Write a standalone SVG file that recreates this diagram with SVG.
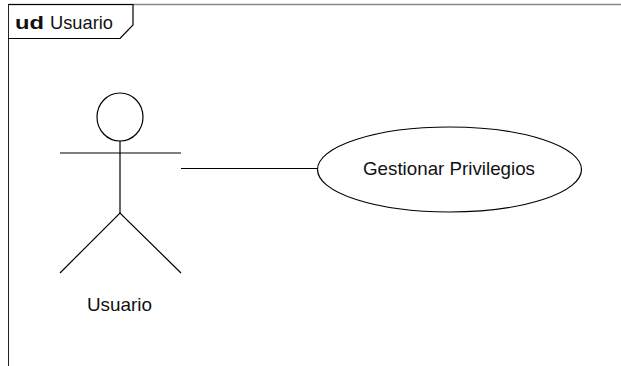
<svg xmlns="http://www.w3.org/2000/svg" width="621" height="366" viewBox="0 0 621 366">
  <style>
    .ln { stroke: #000; stroke-width: 1.2; fill: none; }
    .txt { font-family: "Liberation Sans", Arial, sans-serif; font-size: 18.5px; fill: #111; }
  </style>
  <rect width="621" height="366" fill="#fff"/>
  <!-- diagram frame -->
  <g id="frame">
    <line x1="8" y1="4.5" x2="621" y2="4.5" stroke="#888" stroke-width="1.5"/>
    <line x1="8.5" y1="4" x2="8.5" y2="366" stroke="#222" stroke-width="1"/>
    <path class="ln" d="M8.5 4.5 H133 V25 L120 38.5 H8.5"/>
    <text class="txt" x="15" y="29" font-size="18" font-weight="bold" textLength="29" lengthAdjust="spacingAndGlyphs">ud</text>
    <text class="txt" x="50" y="29" font-size="18" textLength="63" lengthAdjust="spacingAndGlyphs">Usuario</text>
  </g>
  <!-- actor -->
  <g id="actor-usuario">
    <ellipse class="ln" cx="120" cy="117" rx="23" ry="24"/>
    <line class="ln" x1="60" y1="153" x2="181" y2="153"/>
    <line class="ln" x1="120" y1="141" x2="120" y2="213"/>
    <polyline class="ln" points="60,273 120,213 181,273"/>
    <text class="txt" x="87" y="311" textLength="65" lengthAdjust="spacingAndGlyphs">Usuario</text>
  </g>
  <!-- use case -->
  <g id="uc-gestionar">
    <ellipse class="ln" cx="449.5" cy="169.5" rx="132" ry="42.5"/>
    <text class="txt" x="363" y="175" textLength="172" lengthAdjust="spacingAndGlyphs">Gestionar Privilegios</text>
  </g>
  <g id="connectors">
    <line class="ln" x1="181" y1="168.5" x2="317.5" y2="168.5"/>
  </g>
</svg>
